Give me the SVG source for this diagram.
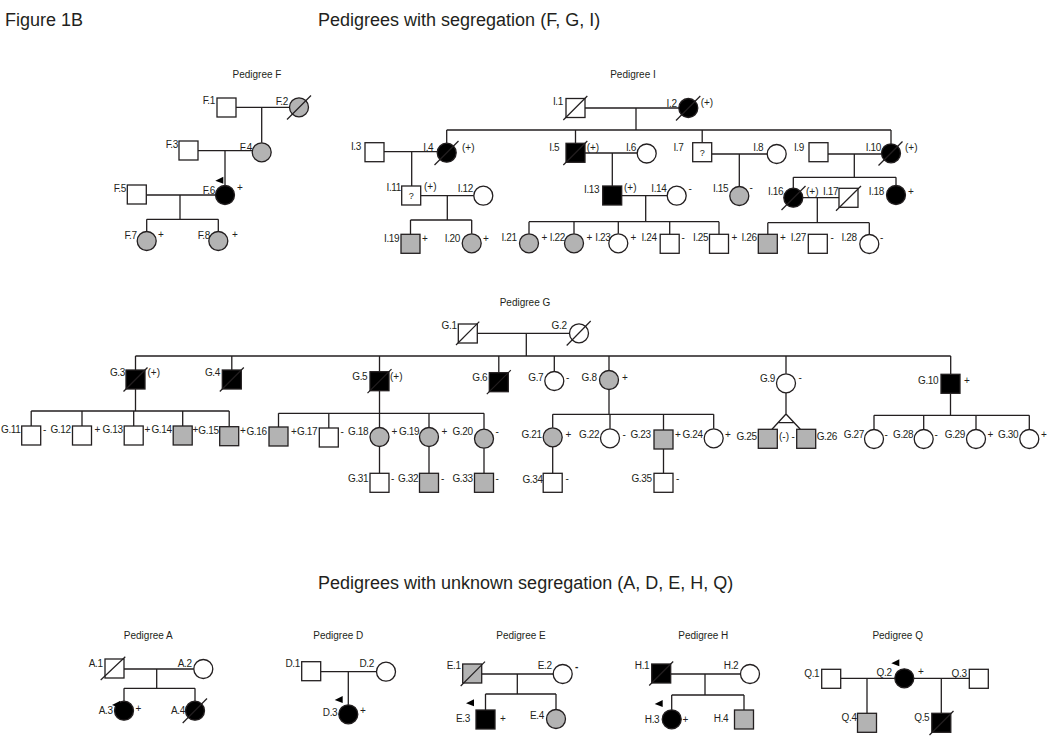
<svg xmlns="http://www.w3.org/2000/svg" xmlns:xlink="http://www.w3.org/1999/xlink" width="1050" height="752" viewBox="0 0 1050 752">
<style>
.s{fill:#fff;stroke:#231f20;stroke-width:1.3}
.a{fill:#000}
.c{fill:#b3b3b3}
.ln{stroke:#231f20;stroke-width:1.3;fill:none}
.sl{stroke:#231f20;stroke-width:1.2;fill:none}
text{font-family:"Liberation Sans",Arial,sans-serif;fill:#231f20}
.lb{font-size:10px;text-anchor:end;letter-spacing:-0.35px}
.mk{font-size:10px}
.ti{font-size:10px;text-anchor:middle}
.hd{font-size:18px}
.q{font-size:9px;text-anchor:middle}
</style>
<defs>
<polygon id="pa" points="0,0 0,7 -8,4" fill="#000"/>
</defs>
<rect width="1050" height="752" fill="#fff"/>
<text class="hd" x="5" y="26">Figure 1B</text>
<text class="hd" x="318" y="26">Pedigrees with segregation (F, G, I)</text>
<text class="hd" x="318" y="589">Pedigrees with unknown segregation (A, D, E, H, Q)</text>
<text class="ti" x="257" y="77.5">Pedigree F</text>
<text class="ti" x="633" y="77.5">Pedigree I</text>
<text class="ti" x="525" y="305.5">Pedigree G</text>
<text class="ti" x="148.3" y="638.5">Pedigree A</text>
<text class="ti" x="338.3" y="638.5">Pedigree D</text>
<text class="ti" x="521" y="638.5">Pedigree E</text>
<text class="ti" x="703.3" y="638.5">Pedigree H</text>
<text class="ti" x="897.7" y="638.5">Pedigree Q</text>

<g id="connectors">
<!-- F -->
<path class="ln" d="M236,107.3H289.5M261.7,107.3V142.8M198,150.7H252.2M225,150.7V185.5M146.3,195H215.5M180,195V219.3M146.7,219.3H218.3M146.7,219.3V231.5M218.3,219.3V231.5"/>
<!-- I -->
<path class="ln" d="M585,108H678.8M636,108V130M446.7,130H891M446.7,130V143.2M575.5,130V143.3M702.2,130V142.7M891,130V143.8"/>
<path class="ln" d="M384,151.7H437.2M411.7,151.7V186M420.7,195.7H473.8M447.3,195.7V220M410.5,220H471.7M410.5,220V234.3M471.7,220V233.8"/>
<path class="ln" d="M585,153H637.2M612.3,153V186M621.7,195.7H667.2M645.7,195.7V221.7M529,221.7H719M529,221.7V233.8M574,221.7V233.8M618.3,221.7V233.8M669.7,221.7V234.3M719,221.7V234.3"/>
<path class="ln" d="M711.7,154H767.2M739.3,154V186.5M828,154H881.5M854.3,154V177.3M793.3,177.3H896M793.3,177.3V188.2M896,177.3V185.5"/>
<path class="ln" d="M802.8,197.7H839M817.3,197.7V222.7M767.8,222.7H869.3M767.8,222.7V234.3M869.3,222.7V234.5"/>
<!-- G -->
<path class="ln" d="M477.3,333.3H569.5M526.3,333.3V356M135.5,356H950.7M135.5,356V370M231.8,356V370M379.5,356V371.7M498.8,356V372.7M554.3,356V371.5M609,356V370.5M786,356V373.8M950.7,356V374.3"/>
<path class="ln" d="M135.5,389V411M31.2,411H229.2M31.2,411V426M82,411V426M133.7,411V426M182.7,411V426M229.2,411V426.7"/>
<path class="ln" d="M379.5,390.7V413.3M278.5,413.3H484M278.5,413.3V427M328.8,413.3V428M379.5,413.3V427.5M429,413.3V427.5M484,413.3V429.2M379.5,446.5V473.3M429,446.5V473.3M484,448.2V473.3"/>
<path class="ln" d="M609,389.5V414.3M552.7,414.3H713.7M552.7,414.3V427.8M610,414.3V428.8M663.5,414.3V430M713.7,414.3V428.8M552.7,446.8V473.3M663.5,449V473.3"/>
<path class="ln" d="M786,392.8V414M786,414L772,429.3M786,414L800.3,429.3M778,422.7H794.1"/>
<path class="ln" d="M950.5,393.3V415.3M874,415.3H1029.3M874,415.3V429.5M923.7,415.3V429.5M976,415.3V429.5M1029.3,415.3V429.5"/>
<!-- A D E H Q -->
<path class="ln" d="M124,669H193.8M156.7,669V688.3M124,688.3H195M124,688.3V701.2M195,688.3V701.2"/>
<path class="ln" d="M320.7,671.7H376.5M348.3,671.7V704.8"/>
<path class="ln" d="M481.7,674H553.2M517.3,674V694M485.5,694H556M485.5,694V710M556,694V709.5"/>
<path class="ln" d="M670.7,674H740.5M705,674V695M671.7,695H744M671.7,695V709.8M744,695V710"/>
<path class="ln" d="M840.7,678.3H894.8M913.8,678.3H969.3M867,678.3V713.3M941.3,678.3V713.3"/>
</g>

<!-- Pedigree F -->
<g id="F1"><rect class="s" x="217" y="98" width="19" height="19"/><text class="lb" x="215" y="104">F.1</text></g>
<g id="F2"><circle class="s c" cx="299" cy="107.3" r="9.5"/><path class="sl" d="M287,119.5L311,95.5"/><text class="lb" x="288" y="105">F.2</text></g>
<g id="F3"><rect class="s" x="179" y="141" width="19" height="19"/><text class="lb" x="178" y="147.5">F.3</text></g>
<g id="F4"><circle class="s c" cx="261.7" cy="152.3" r="9.5"/><text class="lb" x="252" y="150.5">F.4</text></g>
<g id="F5"><rect class="s" x="127.3" y="185" width="19" height="19"/><text class="lb" x="126" y="191.5">F.5</text></g>
<g id="F6"><circle class="s a" cx="225" cy="195" r="9.5"/><use xlink:href="#pa" x="223.3" y="176.7"/><text class="lb" x="215" y="193.5">F.6</text><text class="mk" x="237" y="190.5">+</text></g>
<g id="F7"><circle class="s c" cx="146.7" cy="241" r="9.5"/><text class="lb" x="136.7" y="238.5">F.7</text><text class="mk" x="158" y="237.5">+</text></g>
<g id="F8"><circle class="s c" cx="218.3" cy="241" r="9.5"/><text class="lb" x="210" y="238.5">F.8</text><text class="mk" x="232" y="237.5">+</text></g>

<!-- Pedigree I -->
<g id="I1"><rect class="s" x="566" y="98.5" width="19" height="19"/><path class="sl" d="M563.3,120L587.3,96"/><text class="lb" x="563" y="105">I.1</text></g>
<g id="I2"><circle class="s a" cx="688.3" cy="108" r="9.5"/><path class="sl" d="M676,120.5L700.3,96"/><text class="lb" x="676.7" y="106.5">I.2</text><text class="mk" x="700.7" y="106">(+)</text></g>
<g id="I3"><rect class="s" x="365" y="142.7" width="19" height="19"/><text class="lb" x="361" y="150">I.3</text></g>
<g id="I4"><circle class="s a" cx="446.7" cy="152.7" r="9.5"/><path class="sl" d="M434.5,165L458.5,141"/><text class="lb" x="433.3" y="150.5">I.4</text><text class="mk" x="462" y="150.5">(+)</text></g>
<g id="I5"><rect class="s a" x="566" y="143.3" width="19" height="19"/><path class="sl" d="M563.3,165L587.3,141"/><text class="lb" x="559.3" y="150.8">I.5</text><text class="mk" x="586.7" y="150.5">(+)</text></g>
<g id="I6"><circle class="s" cx="646.7" cy="153.5" r="9.5"/><text class="lb" x="636" y="150.5">I.6</text></g>
<g id="I7"><rect class="s" x="692.7" y="142.7" width="19" height="19"/><text class="q" x="702.2" y="155.5">?</text><text class="lb" x="683.5" y="150.5">I.7</text></g>
<g id="I8"><circle class="s" cx="776.7" cy="154" r="9.5"/><text class="lb" x="763.3" y="150.5">I.8</text></g>
<g id="I9"><rect class="s" x="809" y="142.7" width="19" height="19"/><text class="lb" x="804" y="150.5">I.9</text></g>
<g id="I10"><circle class="s a" cx="891" cy="153.3" r="9.5"/><path class="sl" d="M878.5,165.5L902.5,141.5"/><text class="lb" x="881" y="150.5">I.10</text><text class="mk" x="905" y="150.5">(+)</text></g>
<g id="I11"><rect class="s" x="401.7" y="186" width="19" height="19"/><text class="q" x="411.2" y="199">?</text><text class="lb" x="401" y="190.5">I.11</text><text class="mk" x="424" y="190">(+)</text></g>
<g id="I12"><circle class="s" cx="483.3" cy="195.7" r="9.5"/><text class="lb" x="473" y="191.5">I.12</text></g>
<g id="I13"><rect class="s a" x="602.7" y="186" width="19" height="19"/><text class="lb" x="599.3" y="192.5">I.13</text><text class="mk" x="624" y="190.5">(+)</text></g>
<g id="I14"><circle class="s" cx="676.7" cy="195.7" r="9.5"/><text class="lb" x="666.5" y="191.5">I.14</text><text class="mk" x="688.5" y="191.5">-</text></g>
<g id="I15"><circle class="s c" cx="739.3" cy="196" r="9.5"/><text class="lb" x="728.3" y="191.5">I.15</text><text class="mk" x="749.5" y="191">-</text></g>
<g id="I16"><circle class="s a" cx="793.3" cy="197.7" r="9.5"/><path class="sl" d="M781.5,210L805.5,186"/><text class="lb" x="783.3" y="194.5">I.16</text><text class="mk" x="806" y="194.5">(+)</text></g>
<g id="I17"><rect class="s" x="839" y="188.3" width="19" height="19"/><path class="sl" d="M836,210.7L861,186"/><text class="lb" x="838.3" y="194.5">I.17</text></g>
<g id="I18"><circle class="s a" cx="896" cy="195" r="9.5"/><text class="lb" x="884" y="194.5">I.18</text><text class="mk" x="908" y="194.5">+</text></g>
<g id="I19"><rect class="s c" x="401" y="234.3" width="19" height="19"/><text class="lb" x="399.3" y="241.5">I.19</text><text class="mk" x="422" y="241.5">+</text></g>
<g id="I20"><circle class="s c" cx="471.7" cy="243.3" r="9.5"/><text class="lb" x="460" y="241.5">I.20</text><text class="mk" x="483" y="241.5">+</text></g>
<g id="I21"><circle class="s c" cx="529" cy="243.3" r="9.5"/><text class="lb" x="516.7" y="241">I.21</text><text class="mk" x="541.5" y="241">+</text></g>
<g id="I22"><circle class="s c" cx="574" cy="243.3" r="9.5"/><text class="lb" x="565" y="241">I.22</text><text class="mk" x="586.5" y="241">+</text></g>
<g id="I23"><circle class="s" cx="618.3" cy="243.3" r="9.5"/><text class="lb" x="610.5" y="241">I.23</text><text class="mk" x="630.5" y="241">+</text></g>
<g id="I24"><rect class="s" x="660.2" y="234.3" width="19" height="19"/><text class="lb" x="656.7" y="241">I.24</text><text class="mk" x="681.5" y="241">-</text></g>
<g id="I25"><rect class="s" x="709.5" y="234.3" width="19" height="19"/><text class="lb" x="708.3" y="241">I.25</text><text class="mk" x="731.5" y="241">+</text></g>
<g id="I26"><rect class="s c" x="758.3" y="234.3" width="19" height="19"/><text class="lb" x="756.7" y="241">I.26</text><text class="mk" x="780" y="241">+</text></g>
<g id="I27"><rect class="s" x="808.3" y="234.3" width="19" height="19"/><text class="lb" x="806" y="241">I.27</text><text class="mk" x="830.5" y="241">-</text></g>
<g id="I28"><circle class="s" cx="869.3" cy="244" r="9.5"/><text class="lb" x="856.7" y="241">I.28</text><text class="mk" x="880" y="241">-</text></g>

<!-- Pedigree G -->
<g id="G1"><rect class="s" x="458.3" y="324" width="19" height="19"/><path class="sl" d="M456,345L479.3,321.7"/><text class="lb" x="456.7" y="328.5">G.1</text></g>
<g id="G2"><circle class="s" cx="579" cy="333.3" r="9.5"/><path class="sl" d="M566.7,345.5L590.7,321"/><text class="lb" x="566.7" y="328.5">G.2</text></g>
<g id="G3"><rect class="s a" x="126" y="370" width="19" height="19"/><path class="sl" d="M123.5,391.5L147.5,367.5"/><text class="lb" x="125" y="375.5">G.3</text><text class="mk" x="147.5" y="376">(+)</text></g>
<g id="G4"><rect class="s a" x="222.3" y="370" width="19" height="19"/><path class="sl" d="M219.8,391.5L243.8,367.5"/><text class="lb" x="220" y="375.5">G.4</text></g>
<g id="G5"><rect class="s a" x="370" y="371.7" width="19" height="19"/><path class="sl" d="M367.5,393.2L391.5,369.2"/><text class="lb" x="367.3" y="379.5">G.5</text><text class="mk" x="390" y="379.5">(+)</text></g>
<g id="G6"><rect class="s a" x="489.3" y="372.7" width="19" height="19"/><path class="sl" d="M486.8,394.2L510.8,370.2"/><text class="lb" x="487.3" y="380.5">G.6</text></g>
<g id="G7"><circle class="s" cx="554.3" cy="381" r="9.5"/><text class="lb" x="543.3" y="381">G.7</text><text class="mk" x="566" y="381">-</text></g>
<g id="G8"><circle class="s c" cx="609" cy="380" r="9.5"/><text class="lb" x="596.7" y="381">G.8</text><text class="mk" x="622" y="381">+</text></g>
<g id="G9"><circle class="s" cx="786" cy="383.3" r="9.5"/><text class="lb" x="775" y="382">G.9</text><text class="mk" x="798.5" y="381">-</text></g>
<g id="G10"><rect class="s a" x="941" y="374.3" width="19" height="19"/><text class="lb" x="938.3" y="383.5">G.10</text><text class="mk" x="964" y="383.5">+</text></g>
<g id="G11"><rect class="s" x="21.7" y="426" width="19" height="19"/><text class="lb" x="20.5" y="433">G.11</text><text class="mk" x="43" y="433">-</text></g>
<g id="G12"><rect class="s" x="72.5" y="426" width="19" height="19"/><text class="lb" x="70.7" y="433">G.12</text><text class="mk" x="94.5" y="433">+</text></g>
<g id="G13"><rect class="s" x="124.2" y="426" width="19" height="19"/><text class="lb" x="122.7" y="433">G.13</text><text class="mk" x="144.5" y="433">+</text></g>
<g id="G14"><rect class="s c" x="173.2" y="426" width="19" height="19"/><text class="lb" x="171.7" y="433">G.14</text><text class="mk" x="192.6" y="433">+</text></g>
<g id="G15"><rect class="s c" x="219.7" y="426.7" width="19" height="19"/><text class="lb" x="218.6" y="433.5">G.15</text><text class="mk" x="240" y="433.5">+</text></g>
<g id="G16"><rect class="s c" x="269" y="427" width="19" height="19"/><text class="lb" x="266.7" y="434.5">G.16</text><text class="mk" x="291" y="434.5">+</text></g>
<g id="G17"><rect class="s" x="319.3" y="428" width="19" height="19"/><text class="lb" x="317.3" y="434.5">G.17</text><text class="mk" x="340.5" y="434.5">-</text></g>
<g id="G18"><circle class="s c" cx="379.5" cy="437" r="9.5"/><text class="lb" x="368.3" y="434.5">G.18</text><text class="mk" x="391.5" y="434.5">+</text></g>
<g id="G19"><circle class="s c" cx="429" cy="437" r="9.5"/><text class="lb" x="419.3" y="434.5">G.19</text><text class="mk" x="441.5" y="434.5">+</text></g>
<g id="G20"><circle class="s c" cx="484" cy="438.7" r="9.5"/><text class="lb" x="472.7" y="434.5">G.20</text><text class="mk" x="495.5" y="434.5">-</text></g>
<g id="G21"><circle class="s c" cx="552.7" cy="437.3" r="9.5"/><text class="lb" x="541.7" y="437.5">G.21</text><text class="mk" x="565.5" y="437.5">+</text></g>
<g id="G22"><circle class="s" cx="610" cy="438.3" r="9.5"/><text class="lb" x="599.3" y="437.5">G.22</text><text class="mk" x="622.5" y="437.5">-</text></g>
<g id="G23"><rect class="s c" x="654" y="430" width="19" height="19"/><text class="lb" x="650.7" y="437.5">G.23</text><text class="mk" x="675" y="437.5">+</text></g>
<g id="G24"><circle class="s" cx="713.7" cy="438.3" r="9.5"/><text class="lb" x="702.7" y="437.5">G.24</text><text class="mk" x="725" y="437.5">+</text></g>
<g id="G25"><rect class="s c" x="758.3" y="429.3" width="19" height="19"/><text class="lb" x="756.7" y="440">G.25</text><text class="mk" x="779" y="440">(-)</text><text class="mk" x="791.5" y="440">-</text></g>
<g id="G26"><rect class="s c" x="796.7" y="429.3" width="19" height="19"/><text class="mk" x="816.7" y="440" letter-spacing="-0.35">G.26</text></g>
<g id="G27"><circle class="s" cx="874" cy="439" r="9.5"/><text class="lb" x="864" y="437.5">G.27</text><text class="mk" x="884.5" y="437.5">-</text></g>
<g id="G28"><circle class="s" cx="923.7" cy="439" r="9.5"/><text class="lb" x="913.3" y="437.5">G.28</text><text class="mk" x="934.5" y="437.5">-</text></g>
<g id="G29"><circle class="s" cx="976" cy="439" r="9.5"/><text class="lb" x="965" y="437.5">G.29</text><text class="mk" x="987.5" y="437.5">+</text></g>
<g id="G30"><circle class="s" cx="1029.3" cy="439" r="9.5"/><text class="lb" x="1018.3" y="437.5">G.30</text><text class="mk" x="1041" y="437.5">+</text></g>
<g id="G31"><rect class="s" x="370" y="473.3" width="19" height="19"/><text class="lb" x="368.3" y="481.8">G.31</text><text class="mk" x="391" y="481.8">-</text></g>
<g id="G32"><rect class="s c" x="419.5" y="473.3" width="19" height="19"/><text class="lb" x="418.3" y="481.8">G.32</text><text class="mk" x="441" y="481.8">-</text></g>
<g id="G33"><rect class="s c" x="474.5" y="473.3" width="19" height="19"/><text class="lb" x="472.7" y="481.8">G.33</text><text class="mk" x="495.5" y="481.8">-</text></g>
<g id="G34"><rect class="s" x="543.2" y="473.3" width="19" height="19"/><text class="lb" x="542.7" y="483">G.34</text><text class="mk" x="565.5" y="482">-</text></g>
<g id="G35"><rect class="s" x="654" y="473.3" width="19" height="19"/><text class="lb" x="651.7" y="482">G.35</text><text class="mk" x="676" y="482">-</text></g>

<!-- Pedigree A -->
<g id="A1"><rect class="s" x="105" y="659" width="19" height="19"/><path class="sl" d="M100.7,680L125.3,656.7"/><text class="lb" x="102.7" y="667">A.1</text></g>
<g id="A2"><circle class="s" cx="203.3" cy="669" r="9.5"/><text class="lb" x="191.7" y="667">A.2</text></g>
<g id="A3"><circle class="s a" cx="124" cy="710.7" r="9.5"/><use xlink:href="#pa" x="120" y="701"/><text class="lb" x="112.7" y="713.5">A.3</text><text class="mk" x="135.5" y="711.5">+</text></g>
<g id="A4"><circle class="s a" cx="195" cy="710.7" r="9.5"/><path class="sl" d="M182.7,723L207,698.5"/><text class="lb" x="185" y="713.5">A.4</text></g>
<!-- Pedigree D -->
<g id="D1"><rect class="s" x="301.7" y="661.7" width="19" height="19"/><text class="lb" x="300" y="667">D.1</text></g>
<g id="D2"><circle class="s" cx="386" cy="671.7" r="9.5"/><text class="lb" x="374" y="667">D.2</text></g>
<g id="D3"><circle class="s a" cx="348.3" cy="714.3" r="9.5"/><use xlink:href="#pa" x="342.7" y="696"/><text class="lb" x="337.3" y="715.5">D.3</text><text class="mk" x="360" y="714">+</text></g>
<!-- Pedigree E -->
<g id="E1"><rect class="s c" x="462.7" y="664" width="19" height="19"/><path class="sl" d="M460.7,686L485,661.7"/><text class="lb" x="460.7" y="668.5">E.1</text></g>
<g id="E2"><circle class="s" cx="562.7" cy="674" r="9.5"/><text class="lb" x="551.7" y="668.5">E.2</text><text class="mk" x="575" y="670" font-weight="bold">-</text></g>
<g id="E3"><rect class="s a" x="476" y="710" width="19" height="19"/><use xlink:href="#pa" x="474" y="699.3"/><text class="lb" x="470" y="721.5">E.3</text><text class="mk" x="500" y="721.5">+</text></g>
<g id="E4"><circle class="s c" cx="556" cy="719" r="9.5"/><text class="lb" x="544" y="718.5">E.4</text></g>
<!-- Pedigree H -->
<g id="H1"><rect class="s a" x="651.7" y="664" width="19" height="19"/><path class="sl" d="M649.2,685.5L673.2,661.5"/><text class="lb" x="649.3" y="668.5">H.1</text></g>
<g id="H2"><circle class="s" cx="750" cy="674" r="9.5"/><text class="lb" x="738.3" y="668.5">H.2</text></g>
<g id="H3"><circle class="s a" cx="671.7" cy="719.3" r="9.5"/><use xlink:href="#pa" x="662.7" y="700"/><text class="lb" x="659.3" y="722.5">H.3</text><text class="mk" x="682.5" y="722.5">+</text></g>
<g id="H4"><rect class="s c" x="734.5" y="710" width="19" height="19"/><text class="lb" x="728.3" y="721.5">H.4</text></g>
<!-- Pedigree Q -->
<g id="Q1"><rect class="s" x="821.7" y="669.3" width="19" height="19"/><text class="lb" x="819.3" y="676.5">Q.1</text></g>
<g id="Q2"><circle class="s a" cx="904.3" cy="678.3" r="9.5"/><use xlink:href="#pa" x="899.3" y="659.3"/><text class="lb" x="891.7" y="675.5">Q.2</text><text class="mk" x="918" y="675">+</text></g>
<g id="Q3"><rect class="s" x="969.3" y="669.3" width="19" height="19"/><text class="lb" x="966.7" y="676.5">Q.3</text></g>
<g id="Q4"><rect class="s c" x="857.5" y="713.3" width="19" height="19"/><text class="lb" x="856.7" y="720.5">Q.4</text></g>
<g id="Q5"><rect class="s a" x="931.8" y="713.3" width="19" height="19"/><path class="sl" d="M929.5,735L953.5,711"/><text class="lb" x="929.3" y="720.5">Q.5</text></g>
</svg>
